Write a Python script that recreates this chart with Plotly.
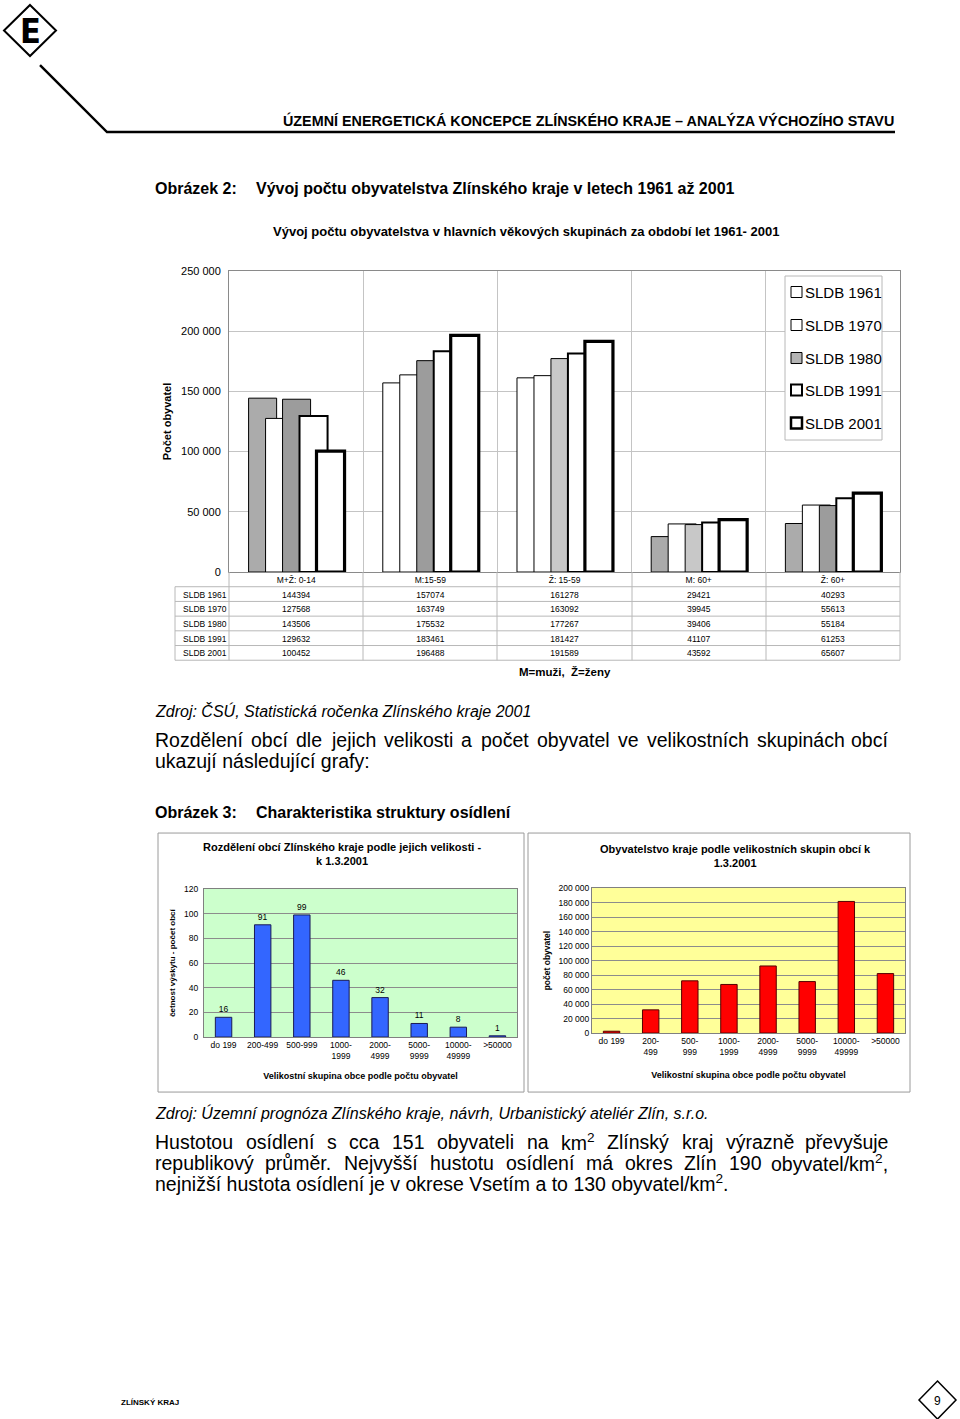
import unicodedata
import plotly.graph_objects as go

W, H = 960, 1419
Y_OFF, Y_SCALE = 6.0, 0.9915   # compensates the vertical mapping seen in the rendered picture


def px(x):
    return x / W


def py(y):
    return 1 - ((y - Y_OFF) / Y_SCALE) / H


FONT = "Liberation Sans, Arial, Helvetica, sans-serif"

# ---------------- data ----------------
age_groups = ["M+Ž: 0-14", "M:15-59", "Ž: 15-59", "M: 60+", "Ž: 60+"]
census_labels = ["SLDB 1961", "SLDB 1970", "SLDB 1980", "SLDB 1991", "SLDB 2001"]
sldb_1961 = [144394, 157074, 161278, 29421, 40293]
sldb_1970 = [127568, 163749, 163092, 39945, 55613]
sldb_1980 = [143506, 175532, 177267, 39406, 55184]
sldb_1991 = [129632, 183461, 181427, 41107, 61253]
sldb_2001 = [100452, 196488, 191589, 43592, 65607]
y1_ticks = [0, 50000, 100000, 150000, 200000, 250000]

size_groups_count = ["do 199", "200-499", "500-999", "1000-<br>1999", "2000-<br>4999",
                     "5000-<br>9999", "10000-<br>49999", ">50000"]
municipality_counts = [16, 91, 99, 46, 32, 11, 8, 1]

size_groups_pop = ["do 199", "200-<br>499", "500-<br>999", "1000-<br>1999", "2000-<br>4999",
                   "5000-<br>9999", "10000-<br>49999", ">50000"]
population_by_size = [2500, 32000, 72000, 67000, 92500, 71000, 181500, 82000]

# ---------------- styles ----------------
series = [sldb_1961, sldb_1970, sldb_1980, sldb_1991, sldb_2001]
bar_fills = [
    ["#ababab", "white", "white", "#ababab", "#ababab"],
    ["white"] * 5,
    ["#9c9c9c", "#9c9c9c", "#c8c8c8", "#c8c8c8", "#9c9c9c"],
    ["white"] * 5,
    ["white"] * 5,
]
legend_fills = ["white", "white", "#b4b4b4", "white", "white"]
line_widths = [1, 1, 1, 2, 3.2]
bar_w, step, start = 0.209, 0.1265, -0.354

fig = go.Figure()

for i in range(5):
    fig.add_trace(go.Bar(
        x=age_groups, y=series[i], offset=start + i * step, width=bar_w, name=census_labels[i],
        marker=dict(color=bar_fills[i], line=dict(color="black", width=line_widths[i])),
        showlegend=False, hoverinfo="skip", xaxis="x", yaxis="y"))

# data table under chart 1 (text via go.Table, grid lines drawn as shapes below)
ROW_H = 14.7
TBL_TOP, TBL_LEFT, TBL_RIGHT = 572, 175, 900
col_edges = [175, 229, 363, 497, 632, 766, 900]
row_labels = [c.replace(" ", "\u00a0") for c in census_labels]
table_cols = [row_labels] + [[str(s[j]) for s in series] for j in range(len(age_groups))]
tbl_shift = 3.5
fig.add_trace(go.Table(
    domain=dict(x=[px(TBL_LEFT), px(TBL_RIGHT)],
                y=[py(TBL_TOP - tbl_shift + 6 * ROW_H + 1), py(TBL_TOP - tbl_shift)]),
    columnwidth=[54, 134, 134, 134, 134, 134],
    header=dict(values=["\u00a0"] + age_groups, height=ROW_H,
                font=dict(family=FONT, size=8.5, color="black"),
                fill_color="rgba(0,0,0,0)", line=dict(color="rgba(0,0,0,0)", width=0),
                align="center"),
    cells=dict(values=table_cols, height=ROW_H,
               font=dict(family=FONT, size=8.5, color="black"),
               fill_color="rgba(0,0,0,0)", line=dict(color="rgba(0,0,0,0)", width=0),
               align=["left"] + ["center"] * 5),
))

# chart 2
fig.add_trace(go.Bar(
    x=size_groups_count, y=municipality_counts, width=0.42,
    marker=dict(color="#3366ff", line=dict(color="#1a1a55", width=1)),
    text=municipality_counts, textposition="outside", cliponaxis=False,
    textfont=dict(family=FONT, size=8.5, color="black"),
    showlegend=False, hoverinfo="skip", xaxis="x2", yaxis="y2"))

# chart 3
fig.add_trace(go.Bar(
    x=size_groups_pop, y=population_by_size, width=0.42,
    marker=dict(color="#ff0000", line=dict(color="#550000", width=1)),
    showlegend=False, hoverinfo="skip", xaxis="x3", yaxis="y3"))

# ---------------- text helpers ----------------
AW = dict(a=556, b=556, c=500, d=556, e=556, f=278, g=556, h=556, i=222, j=222, k=500,
          l=222, m=833, n=556, o=556, p=556, q=556, r=333, s=500, t=278, u=556, v=500,
          w=722, x=500, y=500, z=500,
          A=667, B=667, C=722, D=722, E=667, F=611, G=778, H=722, I=278, J=500, K=667,
          L=556, M=833, N=722, O=778, P=667, Q=778, R=722, S=667, T=611, U=722, V=667,
          W=944, X=667, Y=667, Z=611)
AW.update({" ": 278, ".": 278, ",": 278, ":": 278, ";": 278, "/": 278, "-": 333})
for dg in "0123456789":
    AW[dg] = 556


def char_w(ch):
    if ch == "í":
        return 278
    if ch in AW:
        return AW[ch]
    base = unicodedata.normalize("NFD", ch)[0]
    return AW.get(base, 556)


def word_w(word, size):
    total = 0.0
    rest = word
    while rest:
        if rest.startswith("<sup>"):
            end = rest.index("</sup>")
            total += sum(char_w(c) for c in rest[5:end]) * 0.7
            rest = rest[end + 6:]
        else:
            total += char_w(rest[0])
            rest = rest[1:]
    return total * size / 1000.0


annotations = []


def add_text(text, x, y, size, bold=False, italic=False, xanchor="left", family=FONT, color="black"):
    t = text
    if bold:
        t = "<b>" + t + "</b>"
    if italic:
        t = "<i>" + t + "</i>"
    annotations.append(dict(text=t, x=px(x), y=py(y), xref="paper", yref="paper",
                            xanchor=xanchor, yanchor="middle", showarrow=False, borderpad=0,
                            font=dict(family=family, size=size, color=color)))


def add_justified(text, x0, x1, y, size):
    words = text.split(" ")
    widths = [word_w(w, size) for w in words]
    gap = (x1 - x0 - sum(widths)) / (len(words) - 1)
    x = x0
    for k, w in enumerate(words):
        if k == len(words) - 1:
            add_text(w, x1, y, size, xanchor="right")
        else:
            add_text(w, x, y, size)
        x += widths[k] + gap


# header
add_text("ÚZEMNÍ ENERGETICKÁ KONCEPCE ZLÍNSKÉHO KRAJE – ANALÝZA VÝCHOZÍHO STAVU",
         895, 120, 14.35, bold=True, xanchor="right")
add_text("E", 30, 31, 34, bold=True, xanchor="center",
         family="Liberation Sans Narrow, DejaVu Sans Condensed, Liberation Sans")

add_text("Obrázek 2:", 154, 188, 16, bold=True)
add_text("Vývoj počtu obyvatelstva Zlínského kraje v letech 1961 až 2001", 255, 188, 16, bold=True)
add_text("Vývoj počtu obyvatelstva v hlavních věkových skupinách za období let 1961- 2001",
         526, 231, 13, bold=True, xanchor="center")
add_text("M=muži,  Ž=ženy", 565, 672, 11.5, bold=True, xanchor="center")
add_text("Zdroj: ČSÚ, Statistická ročenka Zlínského kraje 2001", 154, 711, 16, italic=True)
add_justified("Rozdělení obcí dle jejich velikosti a počet obyvatel ve velikostních skupinách obcí",
              154, 889, 740, 19.5)
add_text("ukazují následující grafy:", 154, 761, 19.5)
add_text("Obrázek 3:", 154, 812, 16, bold=True)
add_text("Charakteristika struktury osídlení", 255, 812, 16, bold=True)

add_text("Rozdělení obcí Zlínského kraje podle jejich velikosti -<br>k 1.3.2001",
         342, 854, 11, bold=True, xanchor="center")
add_text("Obyvatelstvo kraje podle velikostních skupin obcí k<br>1.3.2001",
         735, 856, 11, bold=True, xanchor="center")

add_text("Zdroj: Územní prognóza Zlínského kraje, návrh, Urbanistický ateliér Zlín, s.r.o.",
         154, 1113, 16, italic=True)
add_justified("Hustotou osídlení s cca 151 obyvateli na km<sup>2</sup> Zlínský kraj výrazně převyšuje",
              154, 889, 1142, 19.5)
add_justified("republikový průměr. Nejvyšší hustotu osídlení má okres Zlín 190 obyvatel/km<sup>2</sup>,",
              154, 889, 1163, 19.5)
add_text("nejnižší hustota osídlení je v okrese Vsetím a to 130 obyvatel/km<sup>2</sup>.",
         154, 1183, 19.5)

add_text("ZLÍNSKÝ KRAJ", 120, 1402, 8, bold=True)
add_text("9", 937, 1401, 12, xanchor="center")


# ---------------- shapes ----------------
def pth(points, close=True):
    s = "M " + " L ".join(f"{px(a):.5f},{py(b):.5f}" for a, b in points)
    return s + (" Z" if close else "")


def hline(x0, x1, y, color, width):
    return dict(type="line", xref="paper", yref="paper", x0=px(x0), x1=px(x1), y0=py(y), y1=py(y),
                line=dict(color=color, width=width))


def vline(x, y0, y1, color, width):
    return dict(type="line", xref="paper", yref="paper", x0=px(x), x1=px(x), y0=py(y0), y1=py(y1),
                line=dict(color=color, width=width))


shapes = [
    dict(type="path", xref="paper", yref="paper",
         path=pth([(30, 5), (56, 30.5), (30, 56), (4, 30.5)]),
         line=dict(color="black", width=2)),
    dict(type="path", xref="paper", yref="paper",
         path=pth([(40, 65), (107, 132), (895, 132)], close=False),
         line=dict(color="black", width=2.5)),
    dict(type="path", xref="paper", yref="paper",
         path=pth([(937.5, 1381), (956, 1400), (937.5, 1419), (919, 1400)]),
         line=dict(color="black", width=1.5)),
    dict(type="rect", xref="paper", yref="paper", x0=px(158), x1=px(524), y0=py(1092), y1=py(833),
         line=dict(color="#9a9a9a", width=1)),
    dict(type="rect", xref="paper", yref="paper", x0=px(528), x1=px(910), y0=py(1092), y1=py(833),
         line=dict(color="#9a9a9a", width=1)),
    dict(type="rect", xref="x2 domain", yref="y2 domain", x0=0, x1=1, y0=0, y1=1,
         fillcolor="#ccffcc", line=dict(width=0), layer="below"),
    dict(type="rect", xref="x3 domain", yref="y3 domain", x0=0, x1=1, y0=0, y1=1,
         fillcolor="#ffff99", line=dict(width=0), layer="below"),
    # legend box of chart 1
    dict(type="rect", xref="paper", yref="paper", x0=px(785), x1=px(882), y0=py(440), y1=py(276),
         fillcolor="white", line=dict(color="#b8b8b8", width=1)),
]

# table grid
TL = "#b8b8b8"
for k in range(1, 7):
    shapes.append(hline(TBL_LEFT, TBL_RIGHT, TBL_TOP + k * ROW_H, TL, 1))
shapes.append(vline(TBL_LEFT, TBL_TOP + ROW_H, TBL_TOP + 6 * ROW_H, TL, 1))
for xe in col_edges[1:]:
    shapes.append(vline(xe, TBL_TOP, TBL_TOP + 6 * ROW_H, TL, 1))

legend_rows = [292, 325, 358, 390, 423]
for i, yy in enumerate(legend_rows):
    shapes.append(dict(type="rect", xref="paper", yref="paper",
                       x0=px(791), x1=px(802), y0=py(yy + 5.5), y1=py(yy - 5.5),
                       fillcolor=legend_fills[i],
                       line=dict(color="black", width=min(line_widths[i], 2.5))))
    add_text(census_labels[i], 804, yy, 15)

small = dict(family=FONT, size=8.5, color="black")

fig.update_layout(
    width=W, height=H, margin=dict(l=0, r=0, t=0, b=0),
    paper_bgcolor="white", plot_bgcolor="rgba(0,0,0,0)",
    font=dict(family=FONT, color="black"),
    separators=", ",
    barmode="overlay",
    showlegend=False,
    xaxis=dict(domain=[px(229), px(900)], anchor="y", type="category", range=[-0.5, 4.5],
               showticklabels=False, showgrid=True, tickson="boundaries", gridcolor="#c4c4c4",
               ticks="", showline=True, mirror=True, linecolor="#8a8a8a", zeroline=False),
    yaxis=dict(domain=[py(572), py(271)], anchor="x", range=[0, 250000], tickvals=y1_ticks,
               tickformat=",d", gridcolor="#c4c4c4", showline=True, mirror=True,
               linecolor="#8a8a8a", zeroline=False, ticks="", ticklabelstandoff=5,
               tickfont=dict(family=FONT, size=11, color="black"),
               title=dict(text="<b>Počet obyvatel</b>", standoff=7,
                          font=dict(family=FONT, size=11, color="black"))),
    xaxis2=dict(domain=[px(204), px(517)], anchor="y2", type="category", range=[-0.5, 7.5],
                tickfont=small, showgrid=False, ticks="", showline=True, mirror=True,
                linecolor="#808080",
                title=dict(text="<b>Velikostní skupina obce podle počtu obyvatel</b>", standoff=12,
                           font=dict(family=FONT, size=9, color="black"))),
    yaxis2=dict(domain=[py(1037), py(889)], anchor="x2", range=[0, 120], dtick=20,
                gridcolor="#8c8c8c", showline=True, mirror=True, linecolor="#808080",
                zeroline=False, ticks="", tickfont=small, ticklabelstandoff=3,
                title=dict(text="<b>četnost výskytu - počet obcí</b>", standoff=7,
                           font=dict(family=FONT, size=8, color="black"))),
    xaxis3=dict(domain=[px(592), px(905)], anchor="y3", type="category", range=[-0.5, 7.5],
                tickfont=small, showgrid=False, ticks="", showline=True, mirror=True,
                linecolor="#808080",
                title=dict(text="<b>Velikostní skupina obce podle počtu obyvatel</b>", standoff=15,
                           font=dict(family=FONT, size=9, color="black"))),
    yaxis3=dict(domain=[py(1033), py(888)], anchor="x3", range=[0, 200000], dtick=20000,
                tickformat=",d", gridcolor="#8c8c8c", showline=True, mirror=True,
                linecolor="#808080", zeroline=False, ticks="", tickfont=small,
                title=dict(text="<b>počet obyvatel</b>", standoff=6,
                           font=dict(family=FONT, size=8.5, color="black"))),
    annotations=annotations,
    shapes=shapes,
)

fig.write_html("out.html", config={"displayModeBar": False},
               post_script="document.body.style.margin='0';document.body.style.overflow='hidden';")
